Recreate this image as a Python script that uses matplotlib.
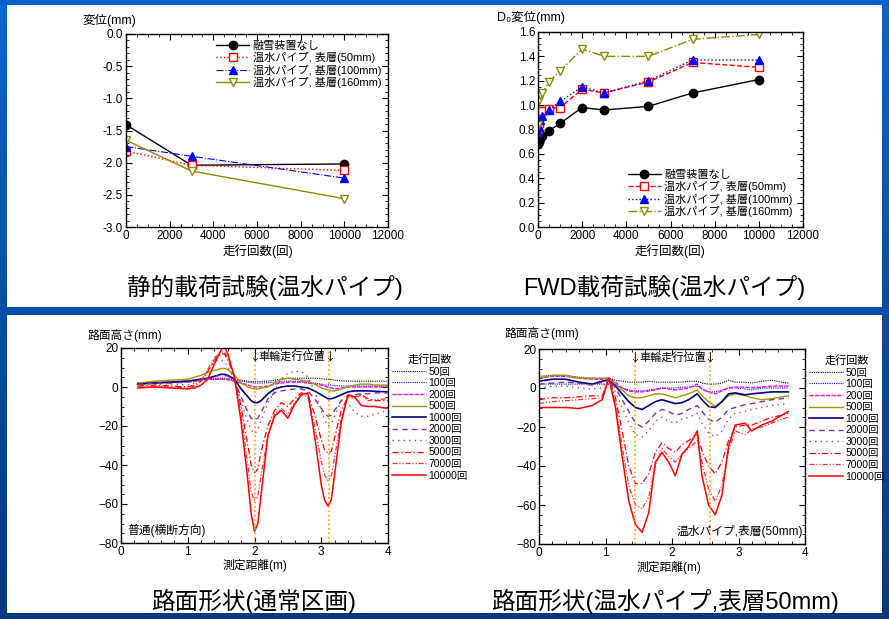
import numpy as np
import matplotlib.pyplot as plt
from matplotlib.patches import Rectangle

plt.rcParams['font.family'] = ['Liberation Sans', 'Noto Sans CJK JP', 'DejaVu Sans']
plt.rcParams['font.size'] = 7.5

# static load test (hot water pipe)
static_x = [0, 3000, 10000]
static_none = [-1.41, -2.04, -2.02]
static_50 = [-1.82, -2.04, -2.12]
static_100 = [-1.75, -1.90, -2.24]
static_160 = [-1.65, -2.13, -2.56]

# FWD load test
fwd_x = [0, 50, 100, 200, 500, 1000, 2000, 3000, 5000, 7000, 10000]
fwd_none = [0.68, 0.70, 0.72, 0.75, 0.79, 0.85, 0.98, 0.96, 0.99, 1.10, 1.21]
fwd_50 = [0.80, 0.85, 0.95, 0.95, 0.97, 0.98, 1.13, 1.10, 1.19, 1.35, 1.31]
fwd_100 = [0.78, 0.82, 0.88, 0.91, 0.96, 1.03, 1.15, 1.10, 1.20, 1.37, 1.37]
fwd_160 = [0.84, 1.04, 1.08, 1.10, 1.19, 1.28, 1.46, 1.40, 1.40, 1.54, 1.58]

series_names = ['融雪装置なし', '温水パイプ, 表層(50mm)', '温水パイプ, 基層(100mm)', '温水パイプ, 基層(160mm)']
pass_labels = ['50回', '100回', '200回', '500回', '1000回', '2000回', '3000回', '5000回', '7000回', '10000回']

# road profile, normal section
prof1_x = [0.25, 0.5, 0.75, 1.0, 1.1, 1.2, 1.3, 1.4, 1.5, 1.55, 1.6, 1.7, 1.8, 1.9, 1.95, 2.0, 2.05, 2.1, 2.2,
           2.3, 2.4, 2.5, 2.6, 2.7, 2.8, 2.9, 3.0, 3.05, 3.1, 3.15, 3.2, 3.3, 3.4, 3.5, 3.6, 3.7, 3.8, 4.0]
prof1 = [
    [2, 2.5, 2.5, 3, 3.5, 4, 4.5, 4.5, 4.5, 4.5, 4.3, 4, 3.5, 3, 2.8, 2.7, 2.7, 2.8, 3, 3.5,
     4, 4.5, 4.5, 4.5, 4.5, 4.5, 4.3, 4, 4, 3.8, 3.5, 3.2, 3, 3, 3, 3, 3, 3],
    [1.5, 2, 2.5, 2.5, 3, 3.5, 4, 4, 4, 4, 3.8, 3.5, 3, 2.5, 2.2, 2, 2, 2, 2.2, 2.5,
     3, 3, 3, 2.8, 2.5, 2, 1.5, 1, 1, 1, 0.8, 0.5, 0.5, 0.5, 0.5, 0.5, 0.5, 0.5],
    [2, 2, 2.5, 3, 3, 3.5, 4, 4, 4, 4, 3.8, 3, 2, 1, 0.5, 0, 0, 0, 0.5, 1.5,
     2, 2.5, 2.5, 2.5, 2, 1.5, 1, 0.5, 0, -0.5, -1, -0.5, 0, 0, 0, 0, 0, 0],
    [2, 3, 3.5, 4, 5, 6, 7.5, 8.5, 9.5, 9.5, 9, 6, 2, 0, -0.5, -1, -1, -0.5, 0, 2,
     4, 4.5, 4, 3.5, 3, 1.5, -0.5, -1, -1.5, -2, -2, -1, 0, 1, 1.5, 1.5, 1, 1],
    [1.5, 2, 2.5, 3, 3.5, 4, 4.5, 5.5, 6.5, 6.5, 6, 4, -1, -5, -7, -8, -8, -7, -3.5, -1,
     0, 0.5, 0.5, 0, -0.5, -2, -4, -5, -6, -6, -5.5, -4, -2.5, -2, -2, -2, -2.2, -2.5],
    [1.5, 2, 2, 2.5, 3, 3.5, 4.5, 5.5, 6, 6, 5.5, 3, -5, -13, -16, -17, -16, -13, -6, -3,
     -2, -1.5, -1, -1, -2, -6, -11, -13.5, -15, -14.5, -12, -7, -4.5, -4, -3.5, -3.5, -3, -3],
    [1, 1.5, 1.5, 1, 2, 4, 8, 13, 14, 13, 10, 4, -8, -18, -22, -24, -22, -17, -8, -2,
     4, 7, 8, 8, 5, -2, -12, -17, -20, -19, -15, -7, -8, -13, -15, -15, -14, -12],
    [0.5, 1, 0.5, 0, 1, 3, 8, 14, 17, 17, 14, 5, -10, -30, -40, -44, -42, -33, -20, -12,
     -8, -10, -6, -3, -4, -14, -27, -32, -34, -33, -26, -12, -5, -5, -4, -6, -7, -7],
    [0, 0.5, 0, -0.5, 0.5, 3, 9, 15, 18, 18, 15, 5, -14, -40, -54, -58, -56, -45, -25, -14,
     -11, -14, -8, -4, -5, -20, -38, -45, -48, -46, -36, -16, -5, -6, -4, -7, -6.5, -6],
    [-0.5, 0, -0.5, -1, -0.5, 1, 4, 12, 19, 21, 17, 5, -18, -48, -65, -74, -70, -55, -25, -15,
     -12, -16, -9, -4, -3, -25, -50, -58, -61, -58, -45, -18, -4, -5, -9.5, -10, -10, -11],
]

# road profile, hot water pipe surface layer 50mm
prof2_x = [0, 0.2, 0.4, 0.6, 0.8, 0.95, 1.05, 1.15, 1.25, 1.35, 1.45, 1.55, 1.65, 1.75, 1.85, 1.95,
           2.05, 2.15, 2.25, 2.38, 2.45, 2.55, 2.65, 2.75, 2.85, 2.95, 3.1, 3.2, 3.35, 3.5, 3.65, 3.75]
prof2 = [
    [6, 6.5, 6.5, 5.5, 5, 5, 5, 4, 3.5, 3, 3, 3, 3.5, 3, 3, 3,
     3, 3, 3.5, 3.5, 2.5, 2, 2, 2.5, 4, 3, 3, 2.5, 3.5, 4, 3, 2.5],
    [2, 2, 2, 2, 2, 2, 2, 1.5, 0, -1, -1.5, -1.5, -1, -0.5, 0, 0,
     0, 0.5, 0.5, 1, -0.5, -2, -2, -1, 0, 0, -0.5, -1, 0, 0, 0, 0],
    [5, 6, 6, 5, 4.5, 4.5, 5, 3, 0, -1.5, -2, -2, -1.5, -1, 0, -0.5,
     -1, -0.5, 0, 2, -0.5, -2, -3, -1.5, 0, 0.5, 0.5, 0, 0.5, 1, 1, 1],
    [5, 6.5, 6.5, 5, 5, 5, 5, 2, -1, -4, -5, -5, -4, -3, -3, -4,
     -5, -4, -3, -1, -4, -7, -9.5, -7, -4, -3, -4, -5, -6, -5.5, -4.5, -4],
    [3.5, 4.5, 4.5, 3, 2, 3.5, 4, 1, -3, -7, -10, -11, -9, -7, -6, -7,
     -8, -7.5, -6, -3, -6, -9.5, -10, -7, -3, -2.5, -3.5, -3, -2.5, -2, -2, -2],
    [2, 2.5, 3, 2.5, 1.5, 3, 5, 0, -6, -12, -18, -20, -17, -13, -11, -12,
     -14, -13, -11, -9, -12, -16, -17.5, -15, -11, -10, -8.5, -8, -7, -6, -5.5, -5],
    [0, 1, 1, 0, -0.5, 0, 5, -2, -10, -18, -24, -25, -22, -17, -15, -17,
     -18, -16, -15, -13, -18, -23, -25, -22, -16, -13, -12, -11, -10, -9, -8.5, -8],
    [-6, -5, -5, -4.5, -4, -4, 5, -5, -22, -40, -49, -49, -44, -33, -28, -31,
     -33, -29, -27, -24, -32, -40, -44, -38, -27, -20, -19, -19, -17, -15, -14, -13],
    [-8, -7, -6.5, -6, -5.5, -5, 5, -8, -30, -50, -60, -62, -56, -40, -31, -35,
     -38, -34, -31, -27, -38, -52, -58, -50, -32, -22, -24, -21, -20, -18, -16, -15],
    [-10, -10, -10, -10.5, -9, -6, 5, -10, -35, -58, -70, -74, -64, -38, -33, -38,
     -45, -34, -30, -22, -45, -60, -65, -55, -30, -19, -18, -22, -19, -17, -14, -12],
]

prof_colors = ['black', '#0000ff', '#ff00ff', '#9a9a00', '#000080', '#8030a0', '#b04848', '#ff0000', '#ff3030', '#ff0000']
prof_styles = [(0, (1, 1)), (0, (1, 1)), (0, (3, 1)), '-', '-', (0, (4, 3)), (0, (1, 3)),
               (0, (5, 2, 1, 2)), (0, (4, 1.5, 1, 1.5, 1, 1.5)), '-']
prof_widths = [0.8, 0.8, 1.0, 1.0, 1.2, 1.0, 1.0, 0.9, 0.9, 1.1]

fig = plt.figure(figsize=(8.89, 6.19), dpi=100)

# slide background
bg = fig.add_axes([0, 0, 1, 1], zorder=-10)
grad = np.linspace(0, 1, 256).reshape(-1, 1)
top_c = np.array([0.0, 0.40, 0.80])
bot_c = np.array([0.04, 0.22, 0.50])
bg.imshow(top_c + grad[:, :, None] * (bot_c - top_c), aspect='auto', extent=[0, 1, 0, 1])
bg.set_axis_off()
W, H = 889, 619
fig.patches.append(Rectangle((7 / W, 1 - 307 / H), 875 / W, 302 / H, transform=fig.transFigure,
                             facecolor='white', edgecolor='none', zorder=-5))
fig.patches.append(Rectangle((7 / W, 1 - 613 / H), 875 / W, 298 / H, transform=fig.transFigure,
                             facecolor='white', edgecolor='none', zorder=-5))


def style_axes(ax):
    ax.minorticks_on()
    ax.tick_params(which='both', direction='in', top=True, right=True, labelsize=8.5, pad=2)
    ax.tick_params(which='major', length=4)
    ax.tick_params(which='minor', length=2)
    for s in ax.spines.values():
        s.set_linewidth(1.0)


ax1 = fig.add_axes([126 / W, 1 - 227 / H, 262 / W, 193 / H])
ax1.plot(static_x, static_none, '-', color='black', marker='o', ms=6, lw=1, label=series_names[0])
ax1.plot(static_x, static_50, ':', color='red', marker='s', ms=6, mfc='white', lw=1, label=series_names[1])
ax1.plot(static_x, static_100, '-.', color='blue', marker='^', ms=6, lw=0.8, label=series_names[2])
ax1.plot(static_x, static_160, '-', color='#8b8b00', marker='v', ms=6, mfc='white', lw=1, label=series_names[3])
ax1.set_xlim(0, 12000)
ax1.set_ylim(-3, 0)
ax1.set_xticks(np.arange(0, 12001, 2000))
ax1.set_yticks(np.arange(-3, 0.01, 0.5))
ax1.yaxis.set_major_formatter(plt.FormatStrFormatter('%.1f'))
style_axes(ax1)
ax1.legend(loc='upper right', fontsize=8, frameon=False, handlelength=3, borderaxespad=0.2,
           labelspacing=0.1, handletextpad=0.3)
fig.text(82 / W, 1 - 20 / H, '変位(mm)', fontsize=9, va='center')
fig.text(258 / W, 1 - 251 / H, '走行回数(回)', fontsize=9, ha='center', va='center')
fig.text(265 / W, 1 - 288 / H, '静的載荷試験(温水パイプ)', fontsize=17, ha='center', va='center')

ax2 = fig.add_axes([538 / W, 1 - 227 / H, 265 / W, 195 / H])
ax2.plot(fwd_x, fwd_none, '-', color='black', marker='o', ms=6, lw=1, label=series_names[0])
ax2.plot(fwd_x, fwd_50, '--', color='red', marker='s', ms=6, mfc='white', lw=1, label=series_names[1])
ax2.plot(fwd_x, fwd_100, ':', color='blue', marker='^', ms=6, lw=1, label=series_names[2])
ax2.plot(fwd_x, fwd_160, '-.', color='#8b8b00', marker='v', ms=6, mfc='white', lw=1, label=series_names[3])
ax2.set_xlim(0, 12000)
ax2.set_ylim(0, 1.6)
ax2.set_xticks(np.arange(0, 12001, 2000))
ax2.set_yticks(np.arange(0, 1.61, 0.2))
ax2.yaxis.set_major_formatter(plt.FormatStrFormatter('%.1f'))
style_axes(ax2)
ax2.legend(loc='lower right', fontsize=8, frameon=False, handlelength=3, borderaxespad=0.5,
           labelspacing=0.1, handletextpad=0.3)
fig.text(497 / W, 1 - 17 / H, 'D₀変位(mm)', fontsize=9, va='center')
fig.text(670 / W, 1 - 251 / H, '走行回数(回)', fontsize=9, ha='center', va='center')
fig.text(664 / W, 1 - 288 / H, 'FWD載荷試験(温水パイプ)', fontsize=17, ha='center', va='center')


def profile_axes(rect, xs, profs, wheel, note, note_x, note_ha):
    ax = fig.add_axes(rect)
    for ys, c, ls, lw, lab in zip(profs, prof_colors, prof_styles, prof_widths, pass_labels):
        ax.plot(xs, ys, color=c, linestyle=ls, lw=lw, label=lab)
    for w in wheel:
        ax.axvline(w, color='#ff9900', linestyle=':', lw=1.2)
        ax.text(w, 15.5, '↓', ha='center', va='center', fontsize=8,
                family=['Noto Sans CJK JP', 'DejaVu Sans'])
    ax.text(sum(wheel) / 2, 15.5, '車輪走行位置', ha='center', va='center', fontsize=8)
    ax.text(note_x, -73.5, note, ha=note_ha, va='center', fontsize=8.5)
    ax.set_xlim(0, 4)
    ax.set_ylim(-80, 20)
    ax.set_xticks([0, 1, 2, 3, 4])
    ax.set_yticks(np.arange(-80, 21, 20))
    style_axes(ax)
    ax.legend(loc='upper left', bbox_to_anchor=(1.0, 0.99), fontsize=7.5, frameon=False,
              title='走行回数', title_fontsize=8, handlelength=3.2, labelspacing=0.15,
              handletextpad=0.3, borderaxespad=0.0)
    return ax


ax3 = profile_axes([121 / W, 1 - 543 / H, 267 / W, 195 / H], prof1_x, prof1, [2.0, 3.12],
                   '普通(横断方向)', 0.1, 'left')
fig.text(88 / W, 1 - 335 / H, '路面高さ(mm)', fontsize=8.5, va='center')
fig.text(255 / W, 1 - 566 / H, '測定距離(m)', fontsize=8.5, ha='center', va='center')
fig.text(254 / W, 1 - 601 / H, '路面形状(通常区画)', fontsize=17, ha='center', va='center')

ax4 = profile_axes([539 / W, 1 - 544 / H, 266 / W, 195 / H], prof2_x, prof2, [1.44, 2.57],
                   '温水パイプ,表層(50mm)', 3.97, 'right')
fig.text(505 / W, 1 - 334 / H, '路面高さ(mm)', fontsize=8.5, va='center')
fig.text(669 / W, 1 - 567 / H, '測定距離(m)', fontsize=8.5, ha='center', va='center')
fig.text(665 / W, 1 - 601 / H, '路面形状(温水パイプ,表層50mm)', fontsize=17, ha='center', va='center')

fig.savefig('out.png', dpi=100)
